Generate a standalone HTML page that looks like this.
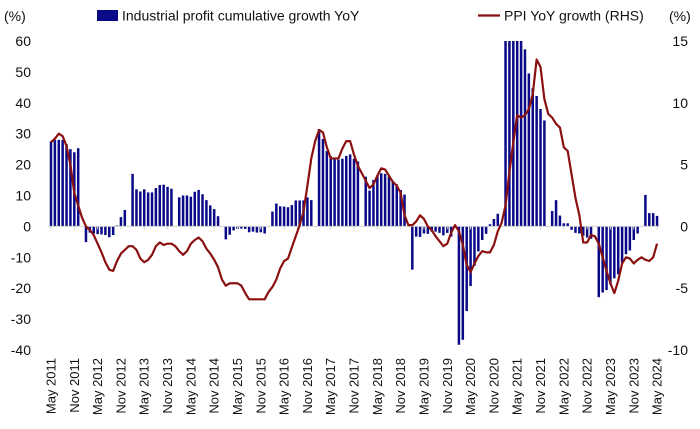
<!DOCTYPE html>
<html><head><meta charset="utf-8"><style>
html,body{margin:0;padding:0;background:#fff;}
svg{display:block;font-family:"Liberation Sans",Arial,sans-serif;}
</style></head><body>
<svg id="chart" width="700" height="429" viewBox="0 0 700 429">
<g id="legend">
 <rect x="97" y="10" width="21" height="11" fill="#0a0a88"/>
 <text x="122" y="20.5" font-size="14" fill="#111">Industrial profit cumulative growth YoY</text>
 <line x1="478" y1="15.5" x2="500" y2="15.5" stroke="#8b1010" stroke-width="2.2"/>
 <text x="504" y="20.5" font-size="14" fill="#111">PPI YoY growth (RHS)</text>
</g>
<text x="4" y="21" font-size="14" fill="#111">(%)</text>
<text x="669" y="21" font-size="14" fill="#111">(%)</text>
<g id="yl"></g>
<g id="yr"></g>
<g id="bars"></g>
<line id="zero" stroke="#d0d0d0" stroke-width="1"/>
<g id="ticks"></g>
<path id="ppi" fill="none" stroke="#8b1010" stroke-width="2.2" stroke-linejoin="round"/>
<g id="xl"></g>
</svg>
<script>
const startYear = 2011, startMonth = 5;
const profit = [27.5,28,28,28,26.6,25,24,25.3,
 null,-5.1,-2,-2.3,-2.5,-2.6,-2.8,-3.5,-2.8,0.3,3,5.3,
 null,17,12,11.3,12,11,11,12.4,13.4,13.5,12.8,12.2,
 null,9.4,10,10,9.6,11.2,11.8,10.4,8.5,6.8,5.6,3.3,
 null,-4.2,-2.7,-1.3,-0.8,-0.7,-0.8,-1.9,-1.7,-2,-1.9,-2.3,
 null,4.8,7.4,6.5,6.4,6.2,6.9,8.4,8.4,8.4,9.4,8.5,
 null,31.5,28.3,24.4,22.7,22,21.6,21.9,22.8,23.3,21.9,21,
 null,16.1,11.6,15,16.5,17.2,17,16.2,14.7,13.6,11.8,10.3,
 null,-14,-3.3,-3.4,-2.3,-2.4,-1.7,-1.7,-2.1,-2.9,-2.1,-3.3,
 null,-38.3,-36.7,-27.4,-19.3,-12.8,-8.1,-4.4,-2.4,0.7,2.4,4.1,
 null,178.9,137.3,106,83.4,66.9,57.3,49.5,44.7,42.2,38,34.3,
 null,5,8.5,3.5,1,1,-1.1,-2.1,-2.3,-3,-3.6,-4,
 null,-22.9,-21.4,-20.6,-18.8,-16.8,-15.5,-11.7,-9,-7.8,-4.4,-2.3,
 null,10.2,4.3,4.3,3.4];
const ppi = [6.8,7.1,7.5,7.3,6.5,5.0,2.7,1.7,
 0.7,0.0,-0.3,-0.7,-1.4,-2.1,-2.9,-3.5,-3.6,-2.8,-2.2,-1.9,
 -1.6,-1.6,-1.9,-2.6,-2.9,-2.7,-2.3,-1.6,-1.3,-1.5,-1.4,-1.4,
 -1.6,-2.0,-2.3,-2.0,-1.4,-1.1,-0.9,-1.2,-1.8,-2.2,-2.7,-3.3,
 -4.3,-4.8,-4.6,-4.6,-4.6,-4.8,-5.4,-5.9,-5.9,-5.9,-5.9,-5.9,
 -5.3,-4.9,-4.3,-3.4,-2.8,-2.6,-1.7,-0.8,0.1,1.2,3.3,5.5,
 6.9,7.8,7.6,6.4,5.5,5.5,5.5,6.3,6.9,6.9,5.8,4.9,
 4.3,3.7,3.1,3.4,4.1,4.7,4.6,4.1,3.6,3.3,2.7,0.9,
 0.1,0.1,0.4,0.9,0.6,0.0,-0.3,-0.8,-1.2,-1.6,-1.4,-0.5,
 0.1,-0.4,-1.5,-3.1,-3.7,-3.0,-2.4,-2.0,-2.1,-2.1,-1.5,-0.4,
 0.3,1.7,4.4,6.8,9.0,8.8,9.0,9.5,10.7,13.5,12.9,10.3,
 9.1,8.8,8.3,8.0,6.4,6.1,4.2,2.3,0.9,-1.3,-1.3,-0.7,
 -0.8,-1.4,-2.5,-3.6,-4.6,-5.4,-4.4,-3.0,-2.5,-2.6,-3.0,-2.7,
 -2.5,-2.7,-2.8,-2.5,-1.4];
const leftTicks = [60,50,40,30,20,10,0,-10,-20,-30,-40];
const rightTicks = [15,10,5,0,-5,-10];
const monthNames = ["Jan","Feb","Mar","Apr","May","Jun","Jul","Aug","Sep","Oct","Nov","Dec"];

const NS = "http://www.w3.org/2000/svg";
const x0 = 51, dx = 3.885;
const xs = i => x0 + i*dx;
const yL = v => 226.4 - v*3.09;
const yR = v => 226.4 - v*12.36;
const clipMax = 60;

const yl = document.getElementById('yl');
leftTicks.forEach(v=>{
  const t=document.createElementNS(NS,'text');
  
  
  t.setAttribute('x',31);t.setAttribute('y',yL(v)+5);
  t.setAttribute('text-anchor','end');t.setAttribute('font-size','14');t.setAttribute('fill','#111');
  t.textContent=v;yl.appendChild(t);
});
const yr = document.getElementById('yr');
rightTicks.forEach(v=>{
  const t=document.createElementNS(NS,'text');
  
  
  t.setAttribute('x',688);t.setAttribute('y',yR(v)+5);
  t.setAttribute('text-anchor','end');t.setAttribute('font-size','14');t.setAttribute('fill','#111');
  t.textContent=v;yr.appendChild(t);
});
const bars=document.getElementById('bars');
profit.forEach((v,i)=>{
  if(v===null) return;
  const vv=Math.max(Math.min(v,clipMax),-40);
  const r=document.createElementNS(NS,'rect');
  
  
  const y0=yL(0), y1=yL(vv);
  r.setAttribute('x',(xs(i)-1.25).toFixed(2));
  r.setAttribute('width',2.5);
  r.setAttribute('y',Math.min(y0,y1).toFixed(2));
  r.setAttribute('height',Math.abs(y1-y0).toFixed(2));
  r.setAttribute('fill','#0a0a88');
  bars.appendChild(r);
});
const n = Math.max(profit.length, ppi.length);
const z=document.getElementById('zero');
z.setAttribute('x1',xs(0)-3);z.setAttribute('x2',xs(n-1)+3);
z.setAttribute('y1',yL(0));z.setAttribute('y2',yL(0));
const ticks=document.getElementById('ticks');
const xl=document.getElementById('xl');
for(let i=0;i<n;i+=6){
  const tk=document.createElementNS(NS,'line');
  
  
  tk.setAttribute('x1',xs(i));tk.setAttribute('x2',xs(i));
  tk.setAttribute('y1',yL(0));tk.setAttribute('y2',yL(0)+3);
  tk.setAttribute('stroke','#d0d0d0');ticks.appendChild(tk);
  const m=(startMonth-1+i)%12, yr2=startYear+Math.floor((startMonth-1+i)/12);
  const t=document.createElementNS(NS,'text');
  
  
  const tx=xs(i)+4.5, ty=358;
  t.setAttribute('x',tx);t.setAttribute('y',ty);
  t.setAttribute('transform','rotate(-90 '+tx+' '+ty+')');
  t.setAttribute('text-anchor','end');t.setAttribute('font-size','13');t.setAttribute('fill','#111');
  t.textContent=monthNames[m]+' '+yr2;xl.appendChild(t);
}
let d='';
ppi.forEach((v,i)=>{ d+=(i?'L':'M')+xs(i).toFixed(2)+' '+yR(v).toFixed(2); });
document.getElementById('ppi').setAttribute('d',d);
</script>
</body></html>
